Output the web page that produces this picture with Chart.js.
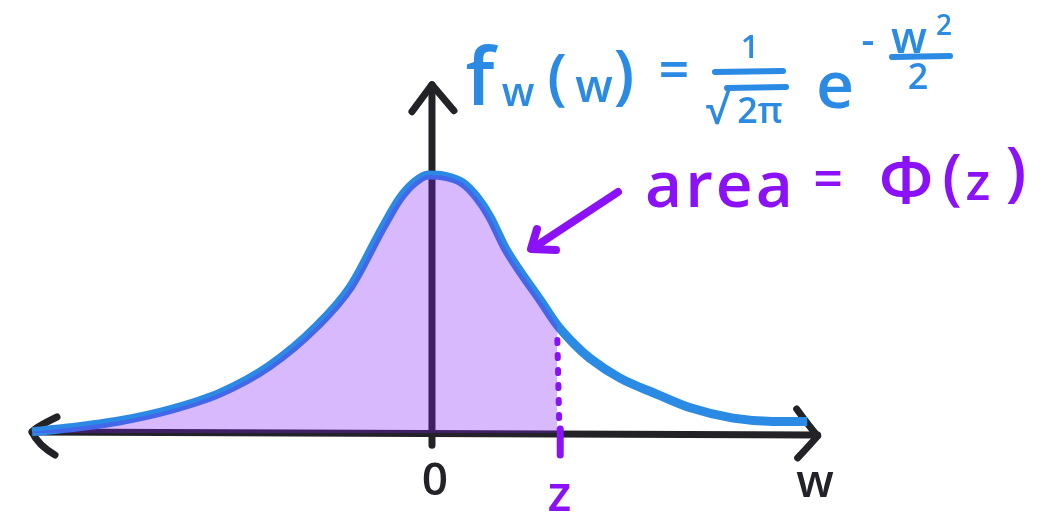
<!DOCTYPE html>
<html>
<head>
<meta charset="utf-8">
<style>
  html, body { margin: 0; padding: 0; background: #ffffff; }
  #wrap { width: 1053px; height: 514px; }
</style>
<script src="https://cdn.jsdelivr.net/npm/chart.js@4.4.1/dist/chart.umd.min.js"></script>
</head>
<body>
<div id="wrap"><canvas id="c" width="1053" height="514"></canvas></div>
<script>
// Hand-drawn standard normal density, traced point by point
const wValues = [-4.21, -3.81, -3.28, -2.76, -2.23, -1.71, -1.21, -0.86, -0.52, -0.34,
                 -0.18, -0.04, 0.14, 0.32, 0.47, 0.61, 0.77, 0.93, 1.14, 1.32,
                 1.51, 1.66, 1.98, 2.37, 2.72, 3.17, 3.59, 3.95];
const density = [0.002, 0.008, 0.019, 0.036, 0.062, 0.104, 0.166, 0.226, 0.318, 0.363,
                 0.389, 0.400, 0.398, 0.388, 0.366, 0.335, 0.287, 0.250, 0.206, 0.167,
                 0.136, 0.116, 0.085, 0.060, 0.039, 0.023, 0.018, 0.018];
const zValue = 1.32;          // cut-off point z
const zDotTop = 0.144;        // top of the dotted marker at z
const axisLabels = ['0', 'z', 'w'];

const BLUE = '#2a8ae4';
const PURPLE = '#8b12f7';
const INK = '#232327';
const FONT = '"Open Sans", "DejaVu Sans", sans-serif';

const curve = wValues.map((w, i) => ({ x: w, y: density[i] }));
const shaded = curve.filter(p => p.x <= zValue);

// Axes with arrowheads, drawn underneath the datasets
const axesPlugin = {
  id: 'sketchAxes',
  beforeDatasetsDraw(chart) {
    const { ctx, scales: { x, y } } = chart;
    const x0 = x.getPixelForValue(0), y0 = y.getPixelForValue(0);
    const left = x.getPixelForValue(wValues[0]);
    const right = x.getPixelForValue(4.06);
    const top = y.getPixelForValue(0.54);
    const bottom = y.getPixelForValue(-0.019);
    ctx.save();
    ctx.strokeStyle = INK;
    ctx.lineWidth = 7;
    ctx.lineCap = 'round';
    ctx.lineJoin = 'round';
    // horizontal axis
    ctx.beginPath();
    ctx.moveTo(left, y0 - 1);
    ctx.lineTo(right, y0 + 2);
    ctx.stroke();
    // arrowheads on the horizontal axis
    ctx.beginPath();
    ctx.moveTo(left + 25, y0 - 16);
    ctx.quadraticCurveTo(left + 4, y0 - 6, left, y0 - 1);
    ctx.quadraticCurveTo(left + 6, y0 + 12, left + 23, y0 + 22);
    ctx.stroke();
    ctx.beginPath();
    ctx.moveTo(right - 21, y0 - 24);
    ctx.quadraticCurveTo(right - 8, y0 - 6, right, y0 + 3);
    ctx.quadraticCurveTo(right - 8, y0 + 12, right - 20, y0 + 25);
    ctx.stroke();
    // vertical axis
    ctx.beginPath();
    ctx.moveTo(x0, bottom);
    ctx.lineTo(x0, top);
    ctx.stroke();
    ctx.beginPath();
    ctx.moveTo(x0 - 20, top + 27);
    ctx.lineTo(x0, top);
    ctx.lineTo(x0 + 22, top + 26);
    ctx.stroke();
    ctx.restore();
  }
};

function txt(ctx, s, px, py, size, color, align, base) {
  ctx.font = `600 ${size}px ${FONT}`;
  ctx.fillStyle = color;
  ctx.textAlign = align || 'center';
  ctx.textBaseline = base || 'alphabetic';
  ctx.fillText(s, px, py);
}

function stroke(ctx, color, w, pts) {
  ctx.strokeStyle = color;
  ctx.lineWidth = w;
  ctx.lineCap = 'round';
  ctx.lineJoin = 'round';
  ctx.beginPath();
  ctx.moveTo(pts[0][0], pts[0][1]);
  for (let i = 1; i < pts.length; i++) ctx.lineTo(pts[i][0], pts[i][1]);
  ctx.stroke();
}

// Axis labels, density formula and the area callout
const notesPlugin = {
  id: 'sketchNotes',
  afterDatasetsDraw(chart) {
    const { ctx, scales: { x } } = chart;
    ctx.save();
    txt(ctx, axisLabels[0], x.getPixelForValue(0) + 3, 495, 46, INK);
    txt(ctx, axisLabels[1], x.getPixelForValue(zValue) + 2, 511, 50, PURPLE);
    txt(ctx, axisLabels[2], 815, 497, 46, INK);

    // f_w(w) = 1/sqrt(2pi) e^(-w^2/2)
    txt(ctx, 'f', 480, 105, 80, BLUE);
    txt(ctx, 'w', 518, 106, 40, BLUE);
    txt(ctx, '(', 557, 80, 62, BLUE, 'center', 'middle');
    txt(ctx, 'w', 594, 102, 46, BLUE);
    txt(ctx, ')', 624, 78, 66, BLUE, 'center', 'middle');
    txt(ctx, '=', 674, 74, 54, BLUE, 'center', 'middle');
    txt(ctx, '1', 750, 58, 32, BLUE);
    stroke(ctx, BLUE, 6, [[715, 72], [783, 71]]);
    txt(ctx, '√', 717, 124, 42, BLUE);
    stroke(ctx, BLUE, 6, [[727, 88], [786, 87]]);
    txt(ctx, '2π', 760, 123, 36, BLUE);
    txt(ctx, 'e', 835, 108, 66, BLUE);
    txt(ctx, '-', 868, 54, 40, BLUE);
    txt(ctx, 'w', 909, 53, 44, BLUE);
    txt(ctx, '2', 944, 35, 28, BLUE);
    stroke(ctx, BLUE, 6, [[892, 57], [950, 56]]);
    txt(ctx, '2', 918, 89, 36, BLUE);

    // area = Φ(z) with arrow pointing into the shaded region
    ctx.letterSpacing = '3px';
    txt(ctx, 'area', 645, 207, 64, PURPLE, 'left');
    ctx.letterSpacing = '0px';
    txt(ctx, '=', 828, 182, 52, PURPLE, 'center', 'middle');
    txt(ctx, 'Φ', 906, 203, 66, PURPLE);
    txt(ctx, '(', 952, 180, 62, PURPLE, 'center', 'middle');
    txt(ctx, 'z', 978, 200, 52, PURPLE);
    txt(ctx, ')', 1016, 175, 66, PURPLE, 'center', 'middle');
    stroke(ctx, PURPLE, 8, [[618, 192], [533, 248]]);
    stroke(ctx, PURPLE, 8, [[537, 229], [531, 249], [556, 250]]);
    ctx.restore();
  }
};

new Chart(document.getElementById('c'), {
  type: 'line',
  data: {
    datasets: [
      {
        label: 'density',
        data: curve,
        borderColor: BLUE,
        borderWidth: 9,
        cubicInterpolationMode: 'monotone',
        pointRadius: 0,
        fill: false,
        order: 2
      },
      {
        label: 'area',
        data: shaded,
        borderWidth: 0,
        borderColor: 'rgba(0,0,0,0)',
        backgroundColor: 'rgba(128,22,248,0.30)',
        cubicInterpolationMode: 'monotone',
        pointRadius: 0,
        fill: 'origin',
        order: 1
      },
      {
        label: 'z marker',
        data: [{ x: zValue, y: zDotTop }, { x: zValue + 0.02, y: 0.012 }],
        borderColor: PURPLE,
        borderWidth: 6,
        borderDash: [3, 12],
        borderCapStyle: 'round',
        pointRadius: 0,
        fill: false,
        order: 0
      },
      {
        label: 'z tick',
        data: [{ x: zValue + 0.03, y: 0.006 }, { x: zValue + 0.03, y: -0.034 }],
        borderColor: PURPLE,
        borderWidth: 7,
        borderCapStyle: 'round',
        pointRadius: 0,
        fill: false,
        order: 0
      }
    ]
  },
  options: {
    responsive: false,
    animation: false,
    devicePixelRatio: 1,
    layout: { padding: 0 },
    plugins: { legend: { display: false }, tooltip: { enabled: false } },
    elements: { line: { tension: 0 } },
    scales: {
      x: { type: 'linear', min: -4.547, max: 6.537, display: false },
      y: { type: 'linear', min: -0.1256, max: 0.6713, display: false }
    }
  },
  plugins: [axesPlugin, notesPlugin]
});
</script>
</body>
</html>
